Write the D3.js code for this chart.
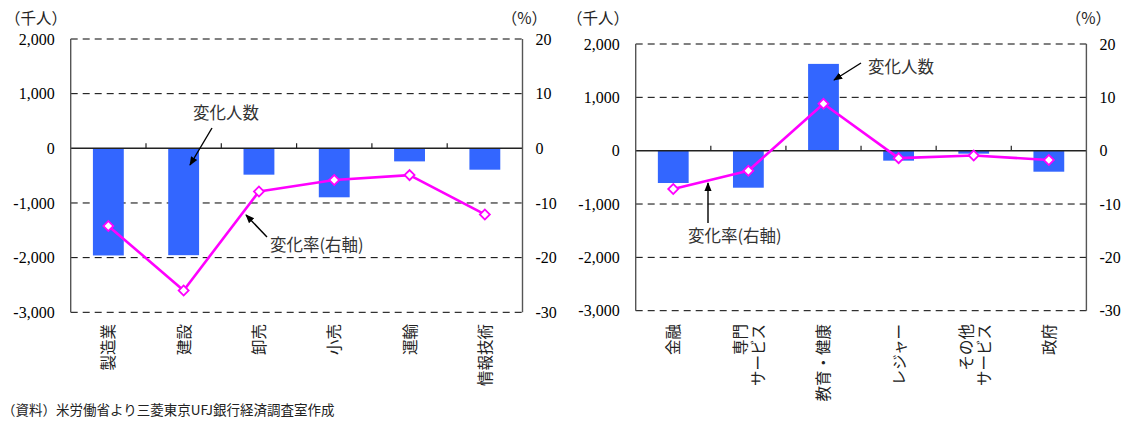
<!DOCTYPE html>
<html>
<head>
<meta charset="utf-8">
<script src="https://cdn.jsdelivr.net/npm/d3@7"></script>
<style>
  html, body { margin: 0; padding: 0; background: #fff; }
  svg { display: block; }
</style>
</head>
<body>
<svg id="chart" width="1130" height="421"></svg>
<script>
// Employment change by industry (thousand persons) and rate of change (%)
const leftCategories = ["製造業", "建設", "卸売", "小売", "運輸", "情報技術"];
const leftChange = [-1960, -1955, -482, -896, -239, -391];
const leftRate = [-14.2, -26.0, -7.9, -5.8, -4.9, -12.1];

const rightCategories = ["金融", "専門\nサービス", "教育・健康", "レジャー", "その他\nサービス", "政府"];
const rightChange = [-606, -694, 1627, -187, -56, -394];
const rightRate = [-7.2, -3.75, 8.8, -1.4, -0.9, -1.75];

const countTicks = [2000, 1000, 0, -1000, -2000, -3000];
const rateTicks = [20, 10, 0, -10, -20, -30];

const unitLeft = "（千人）";
const unitRight = "（%）";
const labelCount = "変化人数";
const labelRate = "変化率(右軸)";
const sourceNote = "（資料）米労働省より三菱東京UFJ銀行経済調査室作成";

const svg = d3.select("#chart");
const fmt = d3.formatLocale({ decimal: ".", thousands: ",", grouping: [3], currency: ["", ""], minus: "-" }).format(",");
const numFont = "'Liberation Serif', 'Times New Roman', serif";
const jpFont = "'Noto Sans CJK JP', 'Noto Sans', sans-serif";

const BAR = "#3366ff";
const LINE = "#ff00ff";

// arrowhead marker for the annotation callouts
svg.append("defs").append("marker")
  .attr("id", "arrow")
  .attr("viewBox", "0 0 10 10")
  .attr("refX", 9).attr("refY", 5)
  .attr("markerWidth", 9).attr("markerHeight", 9)
  .attr("markerUnits", "userSpaceOnUse")
  .attr("orient", "auto")
  .append("path").attr("d", "M0,1 L10,5 L0,9 Z").attr("fill", "#000");

function drawPanel(opt) {
  const { x0, x1, yTop, yBot, cats, change, rate, unitX, pctX, notes } = opt;
  const g = svg.append("g");

  const x = d3.scaleBand().domain(cats).range([x0, x1]).paddingInner(0).paddingOuter(0);
  const y = d3.scaleLinear().domain([-3000, 2000]).range([yBot, yTop]);
  const y2 = d3.scaleLinear().domain([-30, 20]).range([yBot, yTop]);

  // dashed horizontal gridlines
  g.append("g").selectAll("line")
    .data(countTicks.filter(d => d !== 0))
    .join("line")
    .attr("x1", x0).attr("x2", x1)
    .attr("y1", d => y(d)).attr("y2", d => y(d))
    .attr("stroke", "#000").attr("stroke-width", 1)
    .attr("stroke-dasharray", "7,5");

  // bars
  const bw = x.bandwidth() * 0.41;
  g.append("g").selectAll("rect")
    .data(change)
    .join("rect")
    .attr("x", (d, i) => x(cats[i]) + (x.bandwidth() - bw) / 2)
    .attr("width", bw)
    .attr("y", d => y(Math.max(0, d)))
    .attr("height", d => Math.abs(y(d) - y(0)))
    .attr("fill", BAR);

  // zero line with small upward ticks at category boundaries
  g.append("line")
    .attr("x1", x0).attr("x2", x1)
    .attr("y1", y(0)).attr("y2", y(0))
    .attr("stroke", "#222").attr("stroke-width", 1.5);
  g.append("g").selectAll("line")
    .data(cats.slice(1))
    .join("line")
    .attr("x1", d => x(d)).attr("x2", d => x(d))
    .attr("y1", y(0)).attr("y2", y(0) - 5)
    .attr("stroke", "#222").attr("stroke-width", 1.2);

  // vertical axis lines
  [x0, x1].forEach(xx => {
    g.append("line")
      .attr("x1", xx).attr("x2", xx)
      .attr("y1", yTop).attr("y2", yBot)
      .attr("stroke", "#555").attr("stroke-width", 1.4);
  });

  // left axis labels
  const axL = g.append("g").attr("transform", `translate(${x0},0)`)
    .call(d3.axisLeft(y).tickValues(countTicks).tickFormat(fmt).tickSize(0).tickPadding(16));
  axL.select(".domain").remove();
  axL.selectAll("text").attr("font-family", numFont).attr("font-size", 16).attr("fill", "#000");

  // right axis labels
  const axR = g.append("g").attr("transform", `translate(${x1},0)`)
    .call(d3.axisRight(y2).tickValues(rateTicks).tickFormat(fmt).tickSize(0).tickPadding(13));
  axR.select(".domain").remove();
  axR.selectAll("text").attr("font-family", numFont).attr("font-size", 16).attr("fill", "#000");

  // unit captions
  g.append("text").attr("x", unitX).attr("y", 17)
    .attr("dominant-baseline", "central")
    .attr("font-family", jpFont).attr("font-size", 15.5).attr("fill", "#222")
    .text(unitLeft);
  g.append("text").attr("x", pctX).attr("y", 17)
    .attr("dominant-baseline", "central").attr("text-anchor", "end")
    .attr("font-family", jpFont).attr("font-size", 15.5).attr("fill", "#222")
    .text(unitRight);

  // rotated category labels
  const lab = g.append("g");
  cats.forEach(c => {
    const lines = c.split("\n");
    const cx = x(c) + x.bandwidth() / 2;
    lines.forEach((ln, j) => {
      const off = lines.length === 1 ? -1 : (j === 0 ? -9 : 9);
      lab.append("text")
        .attr("transform", `translate(${cx + off},324) rotate(-90)`)
        .attr("text-anchor", "end")
        .attr("dominant-baseline", "central")
        .attr("font-family", jpFont).attr("font-size", 15.5).attr("fill", "#222")
        .text(ln);
    });
  });

  // rate line
  const pts = rate.map((v, i) => [x(cats[i]) + x.bandwidth() / 2, y2(v)]);
  g.append("path")
    .attr("d", d3.line()(pts))
    .attr("fill", "none").attr("stroke", LINE).attr("stroke-width", 2.6)
    .attr("stroke-linejoin", "round");
  g.append("g").selectAll("path")
    .data(pts)
    .join("path")
    .attr("transform", d => `translate(${d[0]},${d[1]}) rotate(45)`)
    .attr("d", d3.symbol(d3.symbolSquare, 50)())
    .attr("fill", "#fff").attr("stroke", LINE).attr("stroke-width", 1.8);

  // callouts
  notes.forEach(n => {
    g.append("line")
      .attr("x1", n.ax1).attr("y1", n.ay1).attr("x2", n.ax2).attr("y2", n.ay2)
      .attr("stroke", "#000").attr("stroke-width", 1.4)
      .attr("marker-end", "url(#arrow)");
    g.append("text").attr("x", n.tx).attr("y", n.ty)
      .attr("dominant-baseline", "central")
      .attr("font-family", jpFont).attr("font-size", 16.5).attr("fill", "#333")
      .text(n.text);
  });
}

drawPanel({
  x0: 70.7, x1: 522.5, yTop: 39, yBot: 312.3,
  cats: leftCategories, change: leftChange, rate: leftRate,
  unitX: 5, pctX: 547,
  notes: [
    { text: labelCount, tx: 193, ty: 112, ax1: 212, ay1: 128, ax2: 190, ay2: 165 },
    { text: labelRate, tx: 270, ty: 244, ax1: 267, ay1: 237, ax2: 246, ay2: 215 }
  ]
});

drawPanel({
  x0: 635.7, x1: 1086.4, yTop: 44, yBot: 310.7,
  cats: rightCategories, change: rightChange, rate: rightRate,
  unitX: 567, pctX: 1111,
  notes: [
    { text: labelCount, tx: 868, ty: 66, ax1: 861, ay1: 63, ax2: 834, ay2: 80 },
    { text: labelRate, tx: 688, ty: 235, ax1: 708, ay1: 223, ax2: 708, ay2: 183 }
  ]
});

svg.append("text").attr("x", 2).attr("y", 409)
  .attr("dominant-baseline", "central")
  .attr("font-family", jpFont).attr("font-size", 13.5).attr("fill", "#222")
  .text(sourceNote);
</script>
</body>
</html>
